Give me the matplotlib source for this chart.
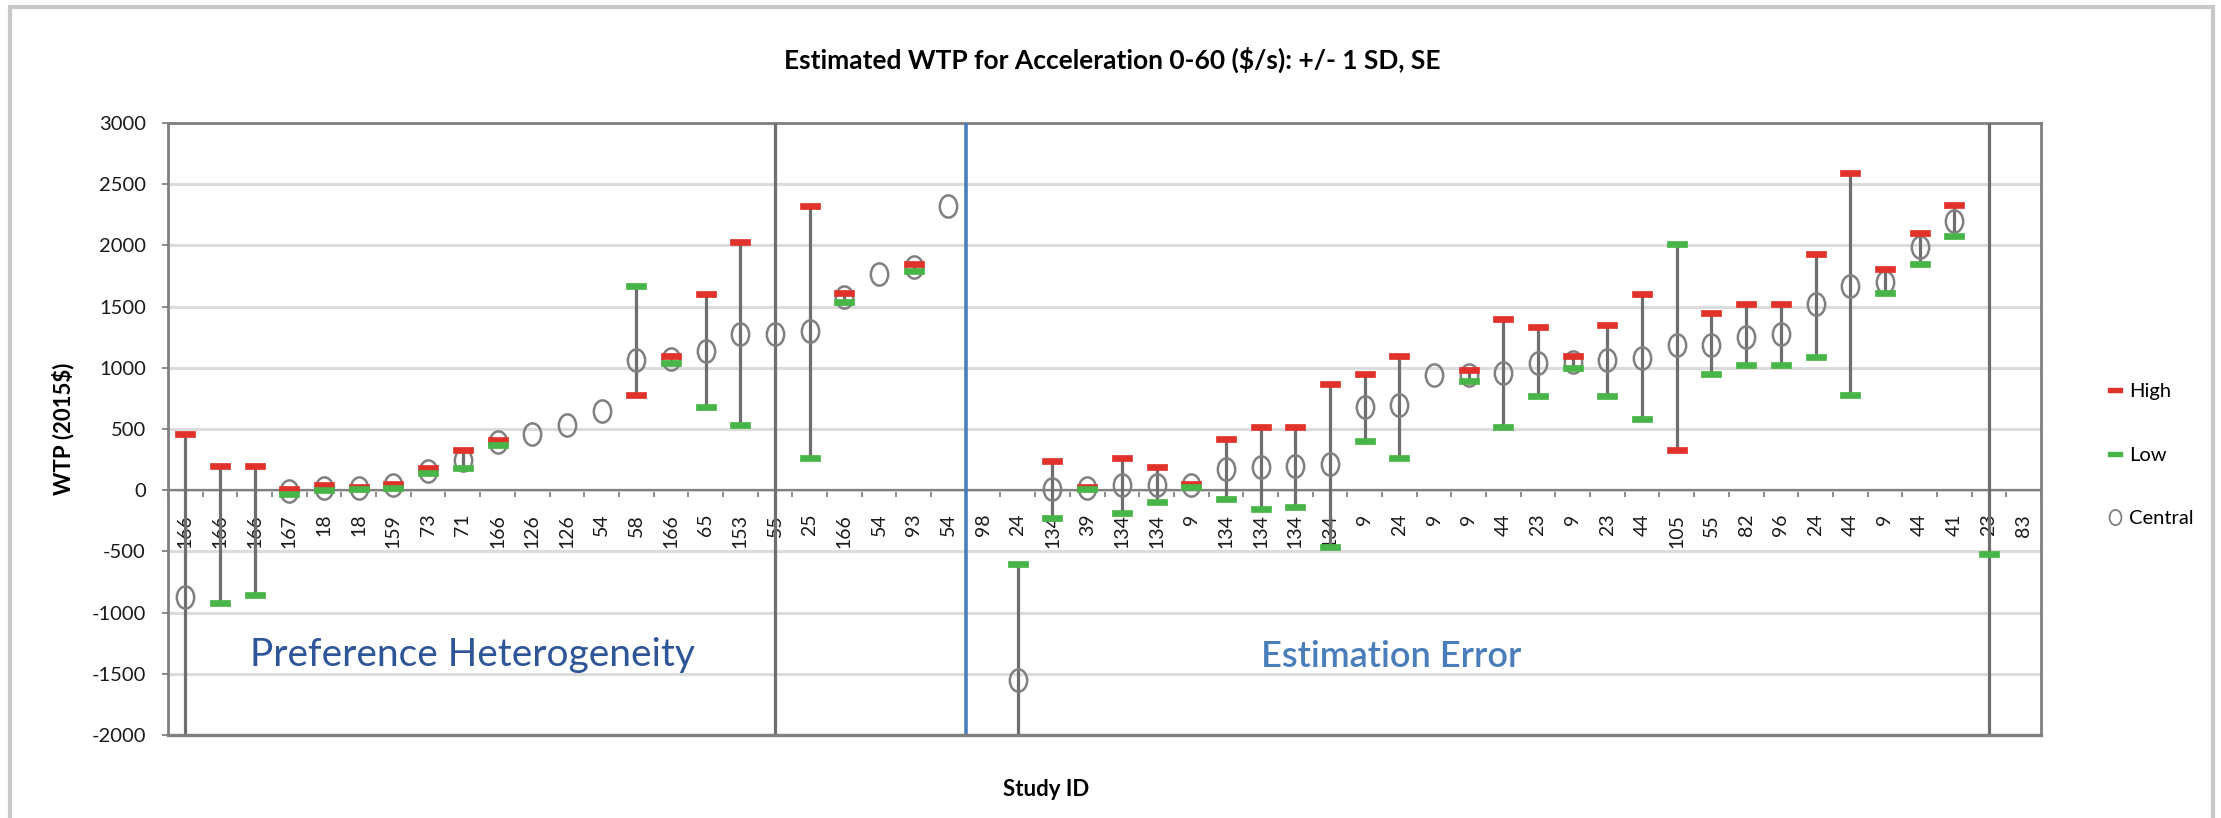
import numpy as np
import matplotlib
matplotlib.use("Agg")
import matplotlib.pyplot as plt
from matplotlib.path import Path
from matplotlib.lines import Line2D
from matplotlib.patches import Rectangle

plt.rcParams['font.family'] = ['Lato', 'DejaVu Sans']
plt.rcParams['axes.unicode_minus'] = False

# study ids along the x axis
study_ids = ['166', '166', '166', '167', '18', '18', '159', '73', '71', '166',
             '126', '126', '54', '58', '166', '65', '153', '55', '25', '166',
             '54', '93', '54', '98', '24', '134', '39', '134', '134', '9',
             '134', '134', '134', '134', '9', '24', '9', '9', '44', '23',
             '9', '23', '44', '105', '55', '82', '96', '24', '44', '9',
             '44', '41', '23', '83']

nan = np.nan
central = [-870, nan, nan, -10, 20, 20, 40, 160, 250, 390,
           460, 530, 650, 1060, 1070, 1140, 1280, 1280, 1300, 1580,
           1770, 1820, 2320, nan, -1550, 10, 20, 40, 40, 40,
           170, 190, 200, 210, 680, 700, 940, 940, 960, 1040,
           1050, 1060, 1080, 1190, 1190, 1250, 1280, 1520, 1670, 1700,
           1990, 2200, -2600, nan]
high = [460, 200, 200, 10, 40, 30, 50, 180, 330, 410,
        nan, nan, nan, 780, 1100, 1600, 2030, 3600, 2320, 1610,
        nan, 1850, nan, nan, -2500, 240, 30, 260, 190, 50,
        420, 520, 520, 870, 950, 1100, nan, 980, 1400, 1330,
        1100, 1350, 1600, 330, 1450, 1520, 1520, 1930, 2590, 1810,
        2100, 2330, 3600, nan]
low = [-2600, -920, -860, -30, 0, 10, 20, 140, 180, 370,
       nan, nan, nan, 1670, 1040, 680, 530, -2600, 260, 1540,
       nan, 1790, nan, nan, -600, -230, 10, -190, -100, 30,
       -70, -150, -140, -460, 400, 260, nan, 890, 520, 770,
       1000, 770, 580, 2010, 950, 1020, 1020, 1090, 780, 1610,
       1850, 2080, -520, nan]

y_ticks = list(range(-2000, 3001, 500))

central = np.array(central, dtype=float)
high = np.array(high, dtype=float)
low = np.array(low, dtype=float)
x = np.arange(len(study_ids))

# markers: tall open ellipse, flat dash
circ = Path.unit_circle()
ellipse = Path(circ.vertices * [0.78, 1.0], circ.codes)
dash = Path([(-1, -0.33), (1, -0.33), (1, 0.33), (-1, 0.33), (-1, -0.33)],
            [Path.MOVETO, Path.LINETO, Path.LINETO, Path.LINETO, Path.CLOSEPOLY])

red = '#E0322B'
green = '#47B547'
grey = '#6e6e6e'

fig = plt.figure(figsize=(22.21, 8.18), dpi=100)
ax = fig.add_axes([168 / 2221, 1 - 735 / 818, 1873 / 2221, 612 / 818])

# high-low line spans every value of the study
stack = np.vstack([central, high, low])
top = np.nanmax(stack, axis=0)
bot = np.nanmin(stack, axis=0)
ok = ~np.isnan(top)
ax.vlines(x[ok], bot[ok], top[ok], color=grey, lw=2.3, zorder=3)

ax.plot(x, central, linestyle='none', marker=ellipse, ms=16, mfc='none',
        mec='#808080', mew=1.8, zorder=4)
ax.plot(x, high, linestyle='none', marker=dash, ms=14, mfc=red, mec=red,
        mew=0.5, zorder=5)
ax.plot(x, low, linestyle='none', marker=dash, ms=14, mfc=green, mec=green,
        mew=0.5, zorder=5)

ax.axvline(22.5, color='#4A7EBB', lw=2.6, zorder=3)

ax.set_xlim(-0.5, len(study_ids) - 0.5)
ax.set_ylim(-2000, 3000)
ax.set_yticks(y_ticks)
ax.yaxis.grid(True, color='#dcdcdc', lw=2.2)
ax.set_axisbelow(True)

for s in ax.spines.values():
    s.set_color('#808080')
    s.set_linewidth(2)
ax.spines['bottom'].set_position(('data', 0))
ax.spines['bottom'].set_linewidth(1.6)
ax.plot([-0.5, len(study_ids) - 0.5], [-2000, -2000], color='#808080',
        lw=2.4, clip_on=False, zorder=6)

ax.set_xticks(x)
ax.set_xticklabels(study_ids, rotation=90, fontsize=14, color='#1a1a1a')
ax.set_xticks(np.arange(len(study_ids) + 1) - 0.5, minor=True)
ax.tick_params(axis='x', which='major', length=0, pad=17)
ax.tick_params(axis='x', which='minor', length=5, width=1.3, color='#808080',
               direction='out')
ax.tick_params(axis='y', length=4, width=1.3, color='#808080', pad=12,
               labelsize=14.5, labelcolor='#1a1a1a')

ax.set_ylabel('WTP (2015$)', fontsize=16, fontweight='bold')
ax.yaxis.set_label_coords(-0.05, 0.5)
ax.set_xlabel('Study ID', fontsize=16, fontweight='bold')
ax.xaxis.set_label_coords(0.469, -0.072)

fig.text(1112 / 2221, 1 - 60 / 818,
         'Estimated WTP for Acceleration 0-60 ($/s): +/- 1 SD, SE',
         ha='center', va='center', fontsize=19, fontweight='bold')

ax.text(0.044, 0.131, 'Preference Heterogeneity', transform=ax.transAxes,
        fontsize=28, color='#2E5597', va='center', ha='left')
ax.text(0.5836, 0.128, 'Estimation Error', transform=ax.transAxes,
        fontsize=26, color='#4A7EBB', va='center', ha='left',
        fontweight='semibold')

handles = [
    Line2D([], [], linestyle='none', marker=dash, ms=10, mfc=red, mec=red),
    Line2D([], [], linestyle='none', marker=dash, ms=10, mfc=green, mec=green),
    Line2D([], [], linestyle='none', marker=ellipse, ms=11, mfc='none',
           mec='#808080', mew=1.3),
]
fig.legend(handles, ['High', 'Low', 'Central'], loc='center left',
           bbox_to_anchor=(2089 / 2221, 1 - 455 / 818), frameon=False,
           fontsize=14.5, labelspacing=2.3, handlelength=0.8, handletextpad=0.3)

# outer chart frame
fig.add_artist(Rectangle((10 / 2221, -0.2), 2203 / 2221, 1.2 - 7 / 818,
                         transform=fig.transFigure, fill=False,
                         edgecolor='#c8c8c8', lw=3, clip_on=False))

fig.savefig('out.png', dpi=100)
